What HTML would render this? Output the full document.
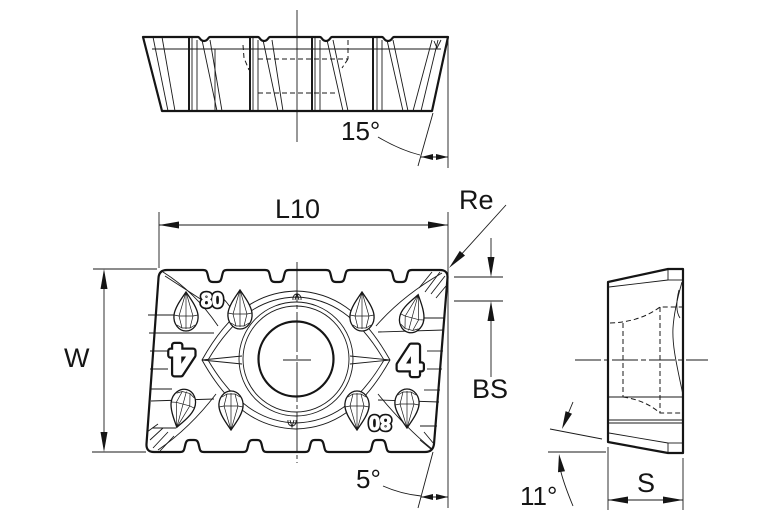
<!DOCTYPE html>
<html>
<head>
<meta charset="utf-8">
<style>
html,body{margin:0;padding:0;background:#fff;}
svg{display:block;}
.k{stroke:#151515;fill:none;stroke-width:2.2;stroke-linejoin:round;}
.t{stroke:#1a1a1a;fill:none;stroke-width:0.9;}
.m{stroke:#1a1a1a;fill:none;stroke-width:1.3;}
.d{stroke:#1a1a1a;fill:none;stroke-width:1;stroke-dasharray:5,3;}
.ah{fill:#151515;stroke:none;}
.lbl{font-family:"Liberation Sans",Arial,sans-serif;fill:#151515;}
.td{stroke:#151515;fill:#fff;stroke-width:1.3;}
.tdi{stroke:#1a1a1a;fill:none;stroke-width:0.7;}
.hb{font-family:"Liberation Sans",Arial,sans-serif;font-weight:bold;fill:#151515;stroke:#151515;stroke-linejoin:round;}
.hw{font-family:"Liberation Sans",Arial,sans-serif;font-weight:bold;fill:#fff;stroke:#fff;stroke-linejoin:round;}
</style>
</head>
<body>
<svg width="767" height="523" viewBox="0 0 767 523" xmlns="http://www.w3.org/2000/svg">
<rect width="767" height="523" fill="#fff"/>

<!-- ================= TOP VIEW ================= -->
<line class="t" x1="297" y1="10" x2="297" y2="142"/>
<line class="t" x1="152" y1="49" x2="441" y2="49"/>
<g class="t">
  <line x1="153" y1="37" x2="168" y2="111"/>
  <line x1="162" y1="37" x2="175" y2="111"/>
  <line x1="192" y1="37" x2="192" y2="111"/>
  <line x1="197" y1="40" x2="197" y2="111"/>
  <line x1="202" y1="40" x2="217" y2="111"/>
  <line x1="210" y1="40" x2="222" y2="111"/>
  <line x1="215" y1="49" x2="215" y2="111"/>
  <line x1="253" y1="37" x2="253" y2="111"/>
  <line x1="258" y1="40" x2="258" y2="111"/>
  <line x1="263" y1="40" x2="278" y2="111"/>
  <line x1="272" y1="40" x2="283" y2="111"/>
  <line x1="315" y1="37" x2="315" y2="111"/>
  <line x1="320" y1="40" x2="320" y2="111"/>
  <line x1="327" y1="40" x2="343" y2="111"/>
  <line x1="333" y1="40" x2="348" y2="111"/>
  <line x1="377" y1="37" x2="377" y2="111"/>
  <line x1="382" y1="40" x2="382" y2="111"/>
  <line x1="387" y1="40" x2="403" y2="111"/>
  <line x1="393" y1="40" x2="408" y2="111"/>
  <line x1="432" y1="40" x2="413" y2="111"/>
  <line x1="438" y1="40" x2="421" y2="111"/>
  <path d="M434,41 L437,48 L441,40"/>
</g>
<g class="m">
  <line x1="189" y1="37" x2="189" y2="111" stroke-width="2"/>
  <line x1="250" y1="37" x2="250" y2="111" stroke-width="2"/>
  <line x1="312" y1="37" x2="312" y2="111" stroke-width="2"/>
  <line x1="373" y1="37" x2="373" y2="111" stroke-width="2"/>
</g>
<g class="d">
  <line x1="258" y1="59" x2="348" y2="59"/>
  <line x1="258" y1="93" x2="336" y2="93"/>
  <line x1="348" y1="40" x2="348" y2="59"/>
  <path d="M243,45 L244,58 L249,70"/>
  <path d="M348,59 L342,68"/>
</g>
<path class="k" d="M143,37 L198,37 C200,37 200,41 204,41 C208,41 208,37 210,37 L258,37 C260,37 260,41 264,41 C268,41 268,37 270,37 L320,37 C322,37 322,41 326,41 C330,41 330,37 332,37 L382,37 C384,37 384,41 388,41 C392,41 392,37 394,37 L448,37 L432,111 L162,111 Z"/>

<line class="t" x1="448" y1="37" x2="448" y2="168"/>
<line class="t" x1="433" y1="113" x2="418" y2="166"/>
<line class="t" x1="421" y1="157" x2="448" y2="157"/>
<polygon class="ah" points="421,157 433,154 433,160"/>
<polygon class="ah" points="448,157 436,154 436,160"/>
<path class="t" d="M378,137 Q400,150 420,155"/>
<text class="lbl" x="341" y="140" font-size="26">15°</text>

<!-- ================= MAIN VIEW ================= -->
<line class="t" x1="159" y1="212" x2="159" y2="268"/>
<line class="t" x1="448" y1="212" x2="448" y2="508"/>
<line class="t" x1="159" y1="225" x2="448" y2="225"/>
<polygon class="ah" points="159,225 179,221.5 179,228.5"/>
<polygon class="ah" points="448,225 428,221.5 428,228.5"/>
<text class="lbl" x="275" y="218" font-size="27">L10</text>

<line class="t" x1="506" y1="205" x2="459" y2="257"/>
<polygon class="ah" points="449,268 465,255.5 459.8,250.9"/>
<text class="lbl" x="459" y="209" font-size="27">Re</text>

<line class="t" x1="454" y1="277" x2="503" y2="277"/>
<line class="t" x1="454" y1="301" x2="503" y2="301"/>
<line class="t" x1="491" y1="238" x2="491" y2="260"/>
<polygon class="ah" points="491,277 487.5,257 494.5,257"/>
<line class="t" x1="491" y1="318" x2="491" y2="377"/>
<polygon class="ah" points="491,301 487.5,321 494.5,321"/>
<text class="lbl" x="472" y="398" font-size="27">BS</text>

<line class="t" x1="93" y1="269" x2="157" y2="269"/>
<line class="t" x1="92" y1="452" x2="146" y2="452"/>
<line class="t" x1="104" y1="285" x2="104" y2="436"/>
<polygon class="ah" points="104,269 100.5,289 107.5,289"/>
<polygon class="ah" points="104,452 100.5,432 107.5,432"/>
<text class="lbl" x="64" y="367" font-size="27">W</text>

<line class="t" x1="433" y1="452" x2="418" y2="508"/>
<line class="t" x1="421" y1="497" x2="448" y2="497"/>
<polygon class="ah" points="421,497 433,494 433,500"/>
<polygon class="ah" points="448,497 436,494 436,500"/>
<path class="t" d="M383,486 Q401,494 421,496"/>
<text class="lbl" x="356" y="488" font-size="26">5°</text>

<g class="t">
  <path d="M202,360 C230,310 260,292 296,291 C332,292 362,310 390,360 C362,410 332,428 296,429 C260,428 230,410 202,360 Z"/>
  <path d="M208,360 C234,316 262,298 296,297 C330,298 358,316 384,360 C358,404 330,422 296,423 C262,422 234,404 208,360 Z"/>
  <path d="M202,360 L242,356 M202,360 L242,364 M390,360 L350,356 M390,360 L350,364"/>
  <path d="M218,326 Q195,292 163,272"/>
  <path d="M165,276 L205,302"/>
  <path d="M376,326 Q402,296 442,273"/>
  <path d="M216,394 Q190,428 158,450"/>
  <path d="M378,394 Q404,426 432,449"/>
  <path d="M236,318 Q228,300 215,292"/>
  <line x1="148" y1="315" x2="176" y2="315"/>
  <line x1="149" y1="333" x2="214" y2="333"/>
  <line x1="150" y1="351" x2="168" y2="351"/>
  <line x1="150" y1="369" x2="168" y2="369"/>
  <line x1="151" y1="389" x2="172" y2="389"/>
  <line x1="151" y1="401" x2="214" y2="399"/>
  <line x1="152" y1="428" x2="176" y2="428"/>
  <line x1="424" y1="318" x2="445" y2="318"/>
  <line x1="378" y1="332" x2="444" y2="330"/>
  <line x1="427" y1="351" x2="443" y2="351"/>
  <line x1="427" y1="369" x2="442" y2="369"/>
  <line x1="424" y1="390" x2="440" y2="390"/>
  <line x1="378" y1="400" x2="439" y2="402"/>
  <line x1="420" y1="426" x2="437" y2="426"/>
  <path d="M425,292 L440,272 M431,294 L445,276 M419,288 L432,272 M436,298 L446,286"/>
  <path d="M150,440 L163,428 M153,448 L168,432 M160,451 L174,436 M147,432 L158,424"/>
  <path d="M420,440 L432,450 M424,432 L434,444"/>
  <path d="M293,300 C292,292 302,292 301,300 M295,300 L297,293 L299,300"/>
  <path d="M288,420 C287,428 297,428 296,420 M290,420 L292,427 L294,420"/>
</g>
<circle class="t" cx="296" cy="359" r="57"/>
<circle class="t" cx="296" cy="359" r="53"/>
<circle class="k" cx="296" cy="359" r="37.5" stroke-width="2.4"/>
<line class="t" x1="297" y1="262" x2="297" y2="463" stroke-dasharray="40,3,4,3"/>
<line class="t" x1="283" y1="360" x2="311" y2="360"/>

<g transform="translate(186,312)"><path class="td" d="M0,-20 C4,-14 11,-5 12,3 C13,12 7,19 0,19 C-7,19 -13,12 -12,3 C-11,-5 -4,-14 0,-20 Z"/><path class="tdi" d="M0,-20 L-7,4 L-4,16 M0,-20 L7,4 L4,16 M0,-20 L0,17 M-12,3 L-7,4 L7,4 L12,3 M-9,13 L-4,16 L4,16 L9,13"/></g>
<g transform="translate(240,310)"><path class="td" d="M0,-20 C4,-14 11,-5 12,3 C13,12 7,19 0,19 C-7,19 -13,12 -12,3 C-11,-5 -4,-14 0,-20 Z"/><path class="tdi" d="M0,-20 L-7,4 L-4,16 M0,-20 L7,4 L4,16 M0,-20 L0,17 M-12,3 L-7,4 L7,4 L12,3 M-9,13 L-4,16 L4,16 L9,13"/></g>
<g transform="translate(362,312)"><path class="td" d="M0,-20 C4,-14 11,-5 12,3 C13,12 7,19 0,19 C-7,19 -13,12 -12,3 C-11,-5 -4,-14 0,-20 Z"/><path class="tdi" d="M0,-20 L-7,4 L-4,16 M0,-20 L7,4 L4,16 M0,-20 L0,17 M-12,3 L-7,4 L7,4 L12,3 M-9,13 L-4,16 L4,16 L9,13"/></g>
<g transform="translate(413,314) rotate(15)"><path class="td" d="M0,-20 C4,-14 11,-5 12,3 C13,12 7,19 0,19 C-7,19 -13,12 -12,3 C-11,-5 -4,-14 0,-20 Z"/><path class="tdi" d="M0,-20 L-7,4 L-4,16 M0,-20 L7,4 L4,16 M0,-20 L0,17 M-12,3 L-7,4 L7,4 L12,3 M-9,13 L-4,16 L4,16 L9,13"/></g>
<g transform="translate(182,408) rotate(195)"><path class="td" d="M0,-20 C4,-14 11,-5 12,3 C13,12 7,19 0,19 C-7,19 -13,12 -12,3 C-11,-5 -4,-14 0,-20 Z"/><path class="tdi" d="M0,-20 L-7,4 L-4,16 M0,-20 L7,4 L4,16 M0,-20 L0,17 M-12,3 L-7,4 L7,4 L12,3 M-9,13 L-4,16 L4,16 L9,13"/></g>
<g transform="translate(231,410) rotate(180)"><path class="td" d="M0,-20 C4,-14 11,-5 12,3 C13,12 7,19 0,19 C-7,19 -13,12 -12,3 C-11,-5 -4,-14 0,-20 Z"/><path class="tdi" d="M0,-20 L-7,4 L-4,16 M0,-20 L7,4 L4,16 M0,-20 L0,17 M-12,3 L-7,4 L7,4 L12,3 M-9,13 L-4,16 L4,16 L9,13"/></g>
<g transform="translate(357,410) rotate(180)"><path class="td" d="M0,-20 C4,-14 11,-5 12,3 C13,12 7,19 0,19 C-7,19 -13,12 -12,3 C-11,-5 -4,-14 0,-20 Z"/><path class="tdi" d="M0,-20 L-7,4 L-4,16 M0,-20 L7,4 L4,16 M0,-20 L0,17 M-12,3 L-7,4 L7,4 L12,3 M-9,13 L-4,16 L4,16 L9,13"/></g>
<g transform="translate(407,408) rotate(180)"><path class="td" d="M0,-20 C4,-14 11,-5 12,3 C13,12 7,19 0,19 C-7,19 -13,12 -12,3 C-11,-5 -4,-14 0,-20 Z"/><path class="tdi" d="M0,-20 L-7,4 L-4,16 M0,-20 L7,4 L4,16 M0,-20 L0,17 M-12,3 L-7,4 L7,4 L12,3 M-9,13 L-4,16 L4,16 L9,13"/></g>

<text class="hb" x="212" y="307" font-size="20" text-anchor="middle" stroke-width="4.5">80</text>
<text class="hw" x="212" y="307" font-size="20" text-anchor="middle" stroke-width="1.2">80</text>
<g transform="rotate(180 380 423)">
<text class="hb" x="380" y="430" font-size="20" text-anchor="middle" stroke-width="4.5">80</text>
<text class="hw" x="380" y="430" font-size="20" text-anchor="middle" stroke-width="1.2">80</text>
</g>
<text class="hb" x="410" y="375" font-size="42" text-anchor="middle" stroke-width="7">4</text>
<text class="hw" x="410" y="375" font-size="42" text-anchor="middle" stroke-width="2.5">4</text>
<g transform="rotate(180 182 360)">
<text class="hb" x="182" y="375" font-size="42" text-anchor="middle" stroke-width="7">4</text>
<text class="hw" x="182" y="375" font-size="42" text-anchor="middle" stroke-width="2.5">4</text>
</g>

<path class="k" stroke-width="2.6" d="M167,270 L203,270 C207,270 207,272 208,276 C209,281 210,282 213,282 L217,282 C220,282 221,281 222,276 C223,272 223,270 227,270 L265,270 C269,270 269,272 270,276 C271,281 272,282 275,282 L279,282 C282,282 283,281 284,276 C285,272 285,270 289,270 L326,270 C330,270 330,272 331,276 C332,281 333,282 336,282 L340,282 C343,282 344,281 345,276 C346,272 346,270 350,270 L388,270 C392,270 392,272 393,276 C394,281 395,282 398,282 L402,282 C405,282 406,281 407,276 C408,272 408,270 412,270 L440,270 Q448,270 447.5,278 L434,444 Q433,452 425,452 L391,452 C387,452 387,450 386,446 C385,441 384,440 381,440 L377,440 C374,440 373,441 372,446 C371,450 371,452 367,452 L329,452 C325,452 325,450 324,446 C323,441 322,440 319,440 L315,440 C312,440 311,441 310,446 C309,450 309,452 305,452 L267,452 C263,452 263,450 262,446 C261,441 260,440 257,440 L253,440 C250,440 249,441 248,446 C247,450 247,452 243,452 L204,452 C200,452 200,450 199,446 C198,441 197,440 194,440 L190,440 C187,440 186,441 185,446 C184,450 184,452 180,452 L154,452 Q146,452 146.5,444 L158.5,278 Q159,270 167,270 Z"/>

<!-- ================= SIDE VIEW ================= -->
<line class="t" x1="575" y1="360" x2="708" y2="360" stroke-dasharray="26,3,5,3"/>
<g class="t">
  <line x1="609" y1="287" x2="668" y2="280"/>
  <line x1="609" y1="433" x2="668" y2="443"/>
  <line x1="668" y1="269" x2="668" y2="280"/>
  <line x1="668" y1="280" x2="683" y2="280"/>
  <line x1="668" y1="443" x2="668" y2="453"/>
  <line x1="668" y1="443" x2="683" y2="443"/>
  <line x1="609" y1="397" x2="683" y2="397"/>
  <line x1="609" y1="420" x2="683" y2="420"/>
  <line x1="609" y1="423" x2="683" y2="423"/>
  <path d="M682,282 C678,296 674,312 673,328 C672,346 677,366 683,395"/>
  <path d="M679,290 C676,302 676,312 680,318"/>
</g>
<g class="d" stroke-dasharray="4,3">
  <path d="M610,323 Q640,322 660,307 L682,307"/>
  <line x1="623" y1="323" x2="623" y2="397"/>
  <line x1="660" y1="307" x2="660" y2="413"/>
  <path d="M623,397 Q645,400 660,413 L682,413"/>
</g>
<path class="k" stroke-width="2.4" d="M608,282 L668,269 L683,269 L683,453 L668,453 L608,442 Z"/>

<line class="t" x1="548" y1="452" x2="606" y2="452"/>
<line class="t" x1="550" y1="429" x2="602" y2="439"/>
<line class="t" x1="573" y1="402" x2="568" y2="414"/>
<polygon class="ah" points="562,429 572,413.7 565.6,411.1"/>
<path class="t" d="M573,506 Q563,482 560,468"/>
<polygon class="ah" points="559,454 565,471.3 558,472.3"/>
<text class="lbl" x="520" y="505" font-size="26">11°</text>

<line class="t" x1="608" y1="447" x2="608" y2="510"/>
<line class="t" x1="683" y1="458" x2="683" y2="510"/>
<line class="t" x1="608" y1="500" x2="683" y2="500"/>
<polygon class="ah" points="608,500 628,496.5 628,503.5"/>
<polygon class="ah" points="683,500 663,496.5 663,503.5"/>
<text class="lbl" x="637" y="492" font-size="27">S</text>

</svg>
</body>
</html>
